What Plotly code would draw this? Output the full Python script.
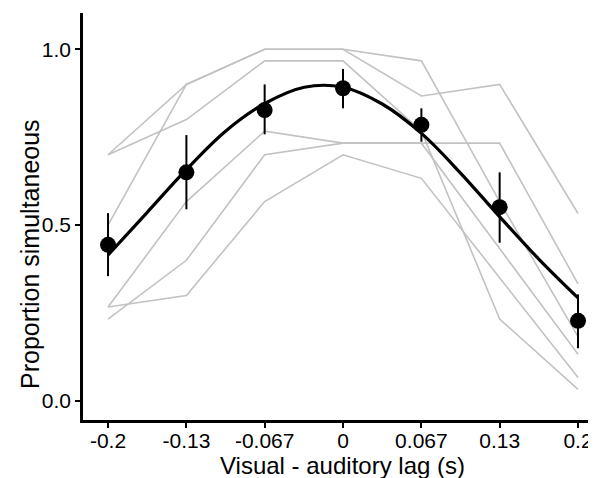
import plotly.graph_objects as go

# Lags (s) and tick labels
lags = [-0.2, -0.1333, -0.0667, 0.0, 0.0667, 0.1333, 0.2]
tick_labels = ["-0.2", "-0.13", "-0.067", "0", "0.067", "0.13", "0.2"]

# Individual participants (proportion simultaneous)
p1 = [0.700, 0.900, 1.000, 1.000, 0.967, 0.567, 0.183]
p2 = [0.500, 0.900, 1.000, 1.000, 0.867, 0.900, 0.533]
p3 = [0.700, 0.800, 0.967, 0.967, 0.767, 0.233, 0.033]
p4 = [0.267, 0.567, 0.767, 0.733, 0.733, 0.733, 0.333]
p5 = [0.233, 0.400, 0.700, 0.733, 0.733, 0.433, 0.133]
p6 = [0.267, 0.300, 0.567, 0.700, 0.633, 0.350, 0.067]
participants = [p1, p2, p3, p4, p5, p6]

# Group mean and error
mean_y = [0.444, 0.650, 0.827, 0.889, 0.785, 0.551, 0.228]
err_up = [0.090, 0.106, 0.073, 0.055, 0.047, 0.099, 0.075]
err_dn = [0.089, 0.105, 0.069, 0.057, 0.048, 0.101, 0.078]

# Fitted curve
fit_x = [-0.2, -0.167, -0.133, -0.1, -0.067, -0.033, 0.0, 0.033, 0.067, 0.1, 0.133, 0.167, 0.2]
fit_y = [0.415, 0.535, 0.659, 0.767, 0.845, 0.892, 0.892, 0.845, 0.760, 0.648, 0.525, 0.402, 0.293]

FONT = "Liberation Sans, Arial, Helvetica, sans-serif"

# Page has an 8px body margin, so the figure is sized to fit inside it
W, H = 588, 470
ML, MR, MT, MB = 75, 0, 5, 58

fig = go.Figure()
for p in participants:
    fig.add_trace(go.Scatter(x=lags, y=p, mode="lines",
                             line=dict(color="#c2c2c2", width=1.6),
                             showlegend=False, hoverinfo="skip"))

fig.add_trace(go.Scatter(x=lags, y=mean_y, mode="markers",
                         marker=dict(color="black", size=16),
                         error_y=dict(type="data", array=err_up, arrayminus=err_dn,
                                      color="black", thickness=2, width=0),
                         showlegend=False))

fig.add_trace(go.Scatter(x=fit_x, y=fit_y, mode="lines",
                         line=dict(color="black", width=3.2, shape="spline"),
                         showlegend=False))

plot_w = W - ML - MR
plot_h = H - MT - MB

fig.update_layout(
    width=W, height=H,
    margin=dict(l=ML, r=MR, t=MT, b=MB),
    paper_bgcolor="white", plot_bgcolor="white",
    font=dict(family=FONT, color="black", size=21),
    xaxis=dict(range=[-0.2213, 0.2153], tickvals=lags, ticktext=tick_labels,
               showgrid=False, zeroline=False, showline=True, linecolor="black",
               linewidth=2.5, ticks="outside", ticklen=5, tickwidth=1.5,
               tickcolor="black", ticklabelstandoff=-5,
               tickfont=dict(size=21, family=FONT, color="black")),
    yaxis=dict(range=[-0.054, 1.103], tickvals=[0, 0.5, 1.0],
               ticktext=["0.0", "0.5", "1.0"],
               showgrid=False, zeroline=False, showline=True, linecolor="black",
               linewidth=2.5, ticks="outside", ticklen=5, tickwidth=1.5,
               tickcolor="black", tickfont=dict(size=21, family=FONT, color="black")),
    annotations=[
        dict(text="Visual - auditory lag (s)", xref="paper", yref="paper",
             x=(342 - 8 - ML) / plot_w, y=(H - MB - (465 - 8)) / plot_h,
             showarrow=False, font=dict(size=24, family=FONT, color="black"),
             xanchor="center", yanchor="middle"),
        dict(text="Proportion simultaneous", xref="paper", yref="paper",
             x=(30 - 8 - ML) / plot_w, y=(H - MB - (254 - 8)) / plot_h,
             showarrow=False, textangle=-90,
             font=dict(size=25, family=FONT, color="black"),
             xanchor="center", yanchor="middle"),
    ],
)

fig.write_html("out.html")
